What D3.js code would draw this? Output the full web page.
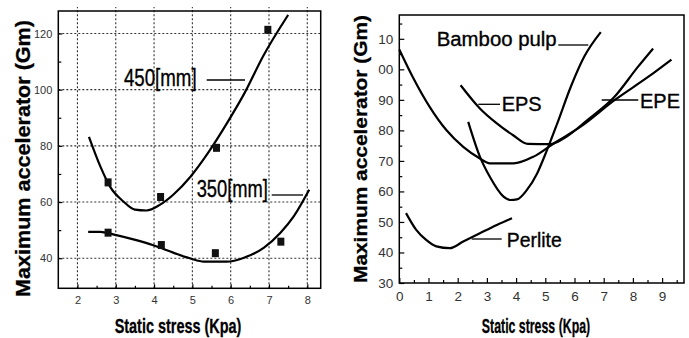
<!DOCTYPE html>
<html>
<head>
<meta charset="utf-8">
<script src="https://cdn.jsdelivr.net/npm/d3@7"></script>
<style>
  body { margin: 0; background: #fff; }
  svg { display: block; }
</style>
</head>
<body>
<script>
// ---- left panel data (curves) ----
const leftX450 = [2.3, 2.6, 2.85, 3.2, 3.5, 3.8, 4.15, 4.5, 4.95, 5.4, 5.9, 6.35, 6.85, 7.5];
const leftY450 = [83.2, 72.6, 65.5, 60.2, 57.3, 57, 59, 62.6, 69, 77.3, 88, 98.5, 112, 126.6];
const leftX350 = [2.28, 2.6, 2.93, 3.46, 3.98, 4.5, 4.95, 5.3, 5.9, 6.35, 6.87, 7.3, 7.65, 8.05];
const leftY350 = [49.4, 49.4, 48.5, 46.7, 44.6, 42, 39.9, 38.8, 38.8, 40.2, 43.8, 49.1, 55, 64.4];
// measured points
const markX450 = [2.8, 4.17, 5.63, 6.97];
const markY450 = [67, 61.8, 79.3, 121.3];
const markX350 = [2.8, 4.19, 5.6, 7.31];
const markY350 = [49.1, 44.7, 41.8, 45.9];
const leftXTicks = [2, 3, 4, 5, 6, 7, 8];
const leftYTicks = [40, 60, 80, 100, 120];

// ---- right panel data ----
const epeX = [0, 0.46, 1.04, 1.61, 2.19, 2.76, 3.1, 3.91, 4.6, 5.3, 6.21, 7.37, 8.52, 9.32];
const epeY = [106.5, 97.5, 87.7, 80.1, 74.6, 70.8, 69.2, 69.2, 71.4, 75.8, 81.2, 89.9, 97.5, 103.2];
const epsX = [2.1, 2.76, 3.34, 3.9, 4.4, 5.18, 5.64, 6.44, 7.37, 8.17, 8.69];
const epsY = [94.8, 87.2, 82.3, 78.4, 75.6, 75.5, 77.4, 83.4, 91, 100.8, 106.8];
const bambooX = [2.36, 2.76, 3.1, 3.57, 3.8, 4.03, 4.37, 4.72, 5.06, 5.41, 5.87, 6.33, 6.9];
const bambooY = [82.8, 71.4, 64.8, 58.3, 57.2, 57.4, 60.5, 65.9, 73.6, 82.3, 94.2, 104.1, 112.2];
const perliteX = [0.23, 0.58, 0.92, 1.27, 1.73, 2.19, 2.76, 3.34, 3.86];
const perliteY = [52.9, 47.4, 44.1, 42, 41.4, 43.6, 46.3, 49, 51.2];
const rightXTicks = [0, 1, 2, 3, 4, 5, 6, 7, 8, 9];
const rightYTicks = [30, 40, 50, 60, 70, 80, 90, 100, 110];
const rightYLabels = ["30", "40", "50", "60", "70", "80", "90", "00", "10"];

const yTitle = "Maximum accelerator (Gm)";
const xTitle = "Static stress (Kpa)";

const W = 689, H = 338;
const svg = d3.select('body').append('svg').attr('width', W).attr('height', H);

const narrow = '"Liberation Sans Narrow", "Arial Narrow", "Liberation Sans", Arial, sans-serif';
const sans = '"Liberation Sans", Arial, sans-serif';

const zip = (xs, ys) => xs.map((x, i) => [x, ys[i]]);

//helper for text with a forced width
function label(g, x, y, txt, size, len, opts = {}) {
	const t = g.append('text')
		.attr('x', x).attr('y', y)
		.attr('text-anchor', 'middle')
		.attr('dominant-baseline', 'central')
		.attr('font-family', opts.family || sans)
		.attr('font-weight', opts.weight || 'normal')
		.attr('font-size', size)
		.attr('fill', '#000')
		.attr('stroke', '#000')
		.attr('stroke-width', opts.sw || 0.35)
		.attr('textLength', len)
		.attr('lengthAdjust', 'spacingAndGlyphs')
		.text(txt);
	if (opts.rotate) t.attr('transform', `rotate(-90,${x},${y})`);
	return t;
}

function leader(g, x1, x2, y) {
	g.append('line').attr('x1', x1).attr('x2', x2).attr('y1', y).attr('y2', y)
		.attr('stroke', '#000').attr('stroke-width', 1.3);
}

// ================= LEFT PANEL =================
const lx = d3.scaleLinear().domain([1.5, 8.35]).range([58.3, 320.7]);
const ly = d3.scaleLinear().domain([29.3, 128]).range([288.3, 11]);
const L = svg.append('g');

//dotted grid
L.append('g').selectAll('line').data(leftXTicks).enter().append('line')
	.attr('x1', d => lx(d)).attr('x2', d => lx(d))
	.attr('y1', ly.range()[0]).attr('y2', 7)
	.attr('stroke', '#333').attr('stroke-width', 1.1).attr('stroke-dasharray', '2,2');
L.append('g').selectAll('line').data(leftYTicks).enter().append('line')
	.attr('x1', lx.range()[0]).attr('x2', lx.range()[1])
	.attr('y1', d => ly(d)).attr('y2', d => ly(d))
	.attr('stroke', '#333').attr('stroke-width', 1.1).attr('stroke-dasharray', '2,2');

//axes with inward ticks
const lxAxis = L.append('g').attr('transform', `translate(0,${ly.range()[0]})`)
	.call(d3.axisBottom(lx).tickValues(leftXTicks).tickSize(-4).tickPadding(8).tickFormat(d3.format('d')));
L.append('g').attr('transform', `translate(0,${ly.range()[0]})`)
	.call(d3.axisBottom(lx).tickValues(d3.range(2.5, 8.1, 1)).tickSize(-2.5).tickFormat(''));
const lyAxis = L.append('g').attr('transform', `translate(${lx.range()[0]},0)`)
	.call(d3.axisLeft(ly).tickValues(leftYTicks).tickSize(-4).tickPadding(6).tickFormat(d3.format('d')));
L.append('g').attr('transform', `translate(${lx.range()[0]},0)`)
	.call(d3.axisLeft(ly).tickValues([50, 70, 90, 110]).tickSize(-3).tickFormat(''));

L.append('rect').attr('x', lx.range()[0]).attr('y', ly.range()[1])
	.attr('width', lx.range()[1] - lx.range()[0]).attr('height', ly.range()[0] - ly.range()[1])
	.attr('fill', 'none').attr('stroke', '#000').attr('stroke-width', 1.5);

const line = (xs, ys) => d3.line().x(d => xs(d[0])).y(d => ys(d[1])).curve(d3.curveMonotoneX);

L.append('path').datum(zip(leftX450, leftY450)).attr('d', line(lx, ly))
	.attr('fill', 'none').attr('stroke', '#000').attr('stroke-width', 2.2);
L.append('path').datum(zip(leftX350, leftY350)).attr('d', line(lx, ly))
	.attr('fill', 'none').attr('stroke', '#000').attr('stroke-width', 2.2);

L.append('g').selectAll('rect').data(zip(markX450, markY450).concat(zip(markX350, markY350)))
	.enter().append('rect')
	.attr('x', d => lx(d[0]) - 3.5).attr('y', d => ly(d[1]) - 4)
	.attr('width', 7).attr('height', 8).attr('fill', '#111');

label(L, 160.3, 78, '450[mm]', 23, 72.7, { family: narrow });
leader(L, 206.7, 245, 80);
label(L, 232.3, 189, '350[mm]', 23, 71.3, { family: narrow });
leader(L, 271.7, 303, 195);

label(L, 23, 158.5, yTitle, 20, 277, { weight: 'bold', rotate: true, sw: 0.3 });
label(L, 178, 325, xTitle, 21, 126.7, { weight: 'bold', family: narrow, sw: 0.3 });

// ================= RIGHT PANEL =================
const rx = d3.scaleLinear().domain([0, 9.75]).range([399.3, 684]);
const ry = d3.scaleLinear().domain([30, 117.8]).range([283, 15]);
const R = svg.append('g');

const rxAxis = R.append('g').attr('transform', `translate(0,${ry.range()[0]})`)
	.call(d3.axisBottom(rx).tickValues(rightXTicks).tickSize(-5).tickPadding(8).tickFormat(d3.format('d')));
R.append('g').attr('transform', `translate(0,${ry.range()[0]})`)
	.call(d3.axisBottom(rx).tickValues(d3.range(0.5, 9.6, 1)).tickSize(-3).tickFormat(''));
const ryAxis = R.append('g').attr('transform', `translate(${rx.range()[0]},0)`)
	.call(d3.axisLeft(ry).tickValues(rightYTicks).tickSize(-5).tickPadding(6)
		.tickFormat((d, i) => rightYLabels[i]));
R.append('g').attr('transform', `translate(${rx.range()[0]},0)`)
	.call(d3.axisLeft(ry).tickValues(d3.range(35, 116, 10)).tickSize(-3).tickFormat(''));

R.append('rect').attr('x', rx.range()[0]).attr('y', ry.range()[1])
	.attr('width', rx.range()[1] - rx.range()[0]).attr('height', ry.range()[0] - ry.range()[1])
	.attr('fill', 'none').attr('stroke', '#000').attr('stroke-width', 1.5);

[[epeX, epeY], [epsX, epsY], [bambooX, bambooY], [perliteX, perliteY]].forEach(([xs, ys]) => {
	R.append('path').datum(zip(xs, ys)).attr('d', line(rx, ry))
		.attr('fill', 'none').attr('stroke', '#000').attr('stroke-width', 2.2);
});

label(R, 496.7, 39, 'Bamboo pulp', 20, 120);
leader(R, 558.3, 588.3, 45);
label(R, 521.7, 104, 'EPS', 20, 40);
leader(R, 478.3, 500, 104.3);
label(R, 660, 101, 'EPE', 20, 40);
leader(R, 601.7, 638.3, 100);
label(R, 534.2, 240, 'Perlite', 20, 55);
leader(R, 471.7, 501.7, 239);

label(R, 360, 149, yTitle, 19, 268, { weight: 'bold', rotate: true, sw: 0.3 });
label(R, 536, 325, xTitle, 21, 108.3, { weight: 'bold', family: narrow, sw: 0.3 });

//axis styling
svg.selectAll('.domain').remove();
svg.selectAll('.tick line').attr('stroke', '#000').attr('stroke-width', 1.2);
[lxAxis, lyAxis].forEach(a => a.selectAll('text').attr('font-family', sans).attr('font-size', 11).attr('fill', '#333'));
[rxAxis, ryAxis].forEach(a => a.selectAll('text').attr('font-family', sans).attr('font-size', 13.5).attr('fill', '#333'));
</script>
</body>
</html>
